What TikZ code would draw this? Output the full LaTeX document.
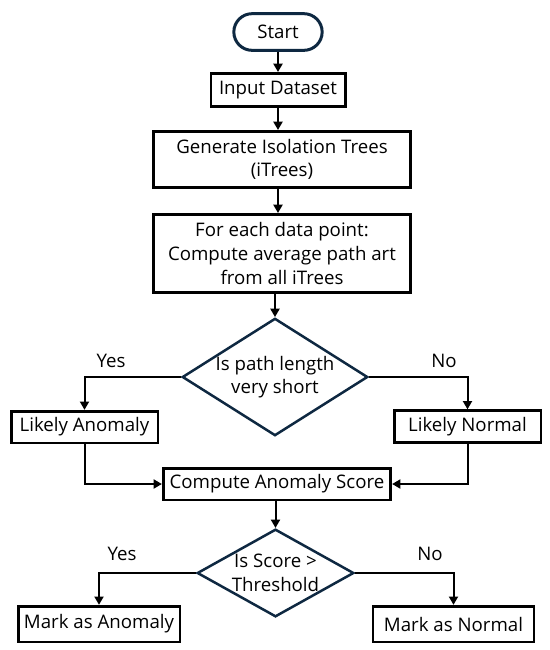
\documentclass[tikz,border=0pt]{standalone}
\usepackage{fontspec}
\setmainfont{Open Sans}
\usepackage{tikz}
\usetikzlibrary{positioning, arrows.meta, shapes.geometric}
\definecolor{navy}{HTML}{0E2841}

\begin{document}
\begin{tikzpicture}[x=0.6pt, y=-0.6pt,
  font=\fontsize{11.2}{14.2}\selectfont,
  box/.style={draw, line width=1.6pt, align=center, inner sep=0pt},
  decision/.style={diamond, draw=navy, line width=1.5pt, align=center, inner sep=0pt},
  flow/.style={line width=1.2pt, -{Triangle[length=5pt, width=5.4pt]}}]
\useasboundingbox (0, 0) rectangle (550, 650);

% main column
\node[draw=navy, line width=1.8pt, rounded corners=11pt, minimum width=53pt, minimum height=22pt] (start) at (278, 32) {Start};
\node[box, minimum width=80.6pt, minimum height=20pt] (input) at (278, 90) {Input Dataset};
\node[box, minimum width=154.4pt, minimum height=33.8pt] (gen) at (282, 159.5) {Generate Isolation Trees\\(iTrees)};
\node[box, minimum width=154.4pt, minimum height=47pt] (each) at (282, 253.5) {For each data point:\\Compute average path art\\from all iTrees};
\node[decision, aspect=1.58, minimum width=110pt, minimum height=69.5pt] (check) at (275, 377) {Is path length\\very short};

% first branch
\node[box, minimum width=88pt, minimum height=19pt] (likelyA) at (84.5, 427) {Likely Anomaly};
\node[box, minimum width=88pt, minimum height=19pt] (likelyN) at (467.5, 426.5) {Likely Normal};
\node[box, minimum width=136.5pt, minimum height=19pt] (score) at (277, 484) {Compute Anomaly Score};
\node[decision, aspect=1.77, minimum width=94pt, minimum height=52.6pt] (thresh) at (275.5, 573) {Is Score >\\Threshold};

% second branch
\node[box, minimum width=97pt, minimum height=21.4pt] (markA) at (99, 624) {Mark as Anomaly};
\node[box, minimum width=96.5pt, minimum height=21.4pt] (markN) at (453.5, 624) {Mark as Normal};

\node (yes1) at (111, 361) {Yes};
\node (no1) at (444, 361) {No};
\node (yes2) at (122, 554) {Yes};
\node (no2) at (430, 554) {No};

\draw[flow] (start) -- (input);
\draw[flow] (input.south) -- (input.south |- gen.north);
\draw[flow] (gen.south -| input) -- (each.north -| input);
\draw[flow] (each.south -| check) -- (check.north);
\draw[flow] (check.west) -| (likelyA.north);
\draw[flow] (check.east) -| (likelyN.north);
\draw[flow] (likelyA.south) |- (score.west);
\draw[flow] (likelyN.south) |- (score.east);
\draw[flow] (score.south -| thresh) -- (thresh.north);
\draw[flow] (thresh.west) -| (markA.north);
\draw[flow] (thresh.east) -| (markN.north);
\end{tikzpicture}
\end{document}
